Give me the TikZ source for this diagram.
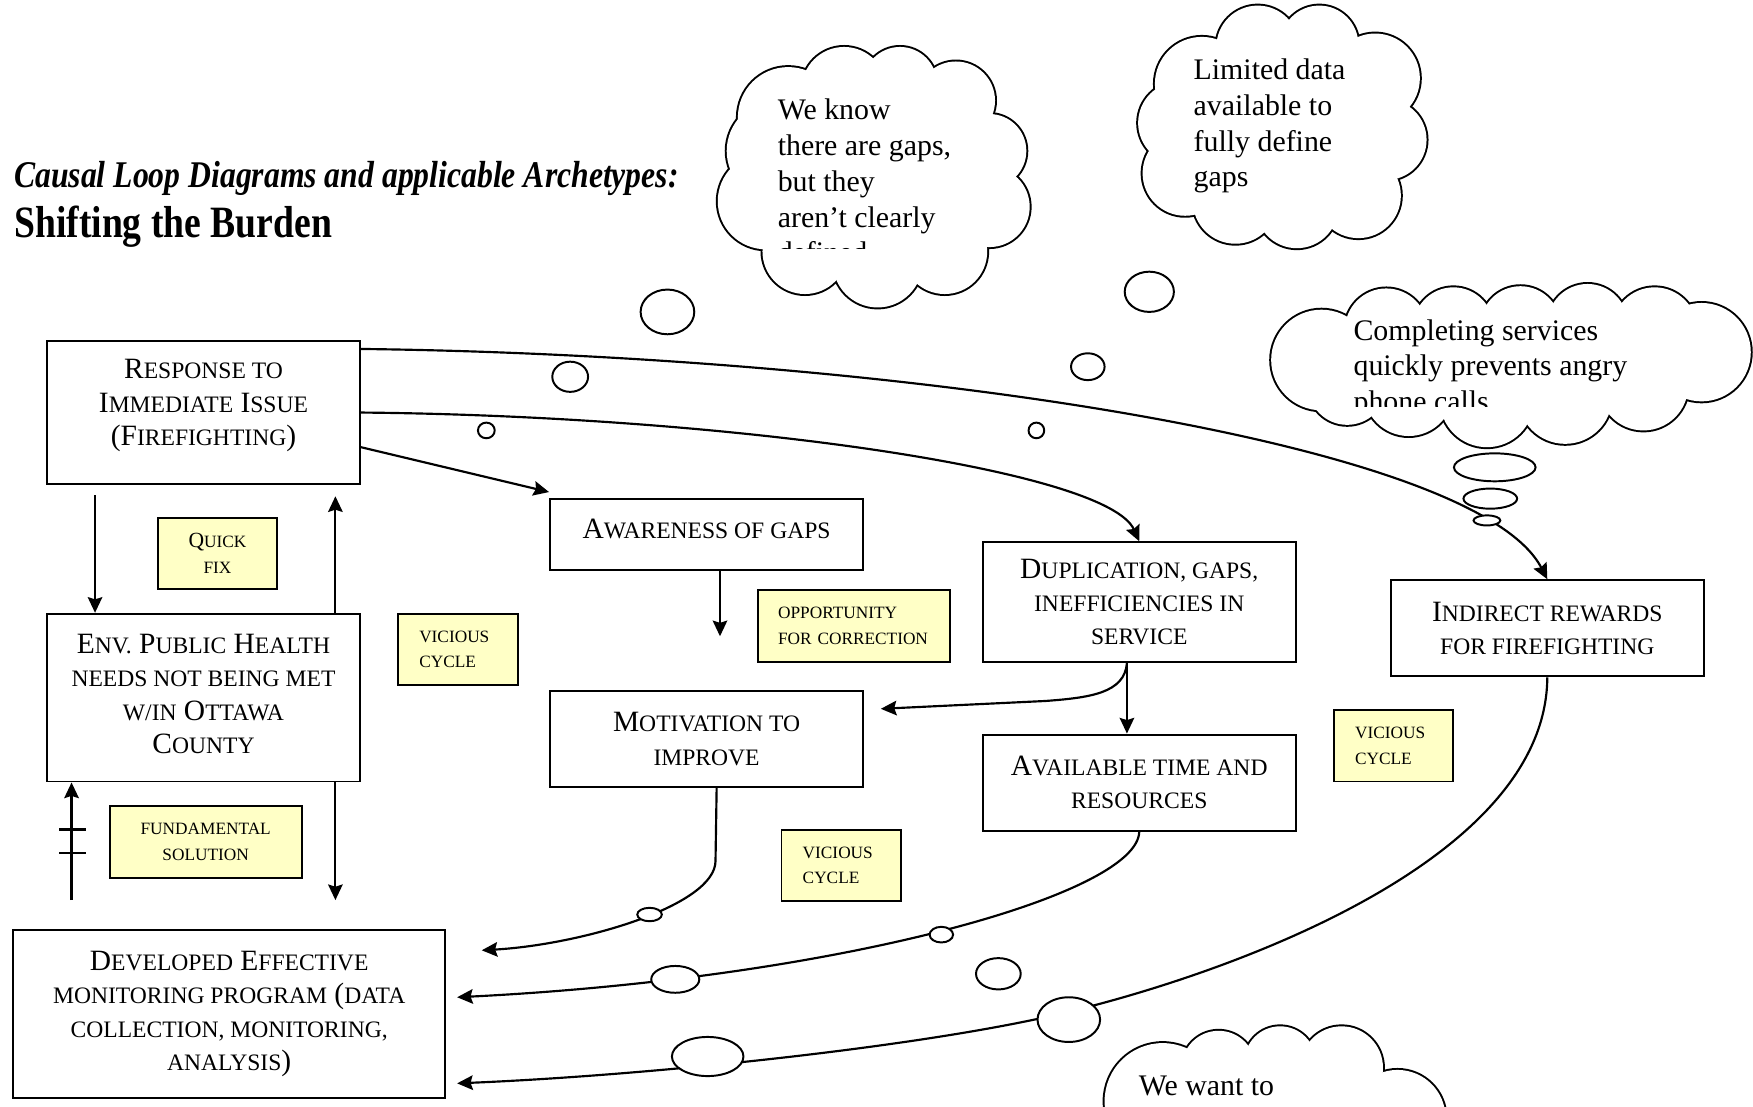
\documentclass[tikz,border=0pt]{standalone}
\usepackage{fontspec}
\setmainfont{Liberation Serif}
\newfontfamily\headfont[FakeStretch=0.84]{Liberation Serif}
\usetikzlibrary{arrows.meta, calc}
\definecolor{notefill}{HTML}{FFFFC6}
\newcommand{\smc}[1]{{\fontsize{6}{8.5}\selectfont #1}}
\newcommand{\capq}[1]{{\fontsize{5.5}{6.5}\selectfont #1}}
\newcommand{\textdrop}[1]{\rule[-#1]{0pt}{#1}}
\newcommand{\thoughtcloud}[2]{%
  \foreach \cx/\cy/\r in {#1} \draw[puff] (\cx,\cy) circle (\r);
  \foreach \cx/\cy/\r in {#1} \fill[white] (\cx,\cy) circle (\r);
  \fill[white] #2;}
\tikzstyle{factor} = [rectangle, draw=black, line width=0.5pt, align=center, inner sep=0pt, minimum width=2.8cm, font=\fontsize{7.5}{8.5}\selectfont]
\tikzstyle{archetype} = [rectangle, draw=black, line width=0.5pt, fill=notefill, minimum height=0.64cm, font=\fontsize{4.4}{6.5}\selectfont]
\tikzstyle{arrow} = [line width=0.55pt, ->, >={Stealth[length=0.14cm, width=0.13cm, inset=0.02cm]}]
\tikzstyle{link} = [line width=0.55pt]
\tikzstyle{bubble} = [draw=black, line width=0.5pt, fill=white]
\tikzstyle{puff} = [draw=black, line width=1pt]
\tikzstyle{thought} = [align=left, anchor=north west, inner sep=0pt, font=\fontsize{7.6}{9.1}\selectfont]

\begin{document}
\begin{tikzpicture}[y=-1cm]
\path[use as bounding box, fill=white] (0,0) rectangle (15.68,9.90);

% headings
\node (heading) [anchor=west, inner sep=0pt, font=\headfont\fontsize{9.6}{11}\selectfont\bfseries\itshape] at (0.12,1.60) {Causal Loop Diagrams and applicable Archetypes:};
\node (subheading) [anchor=west, inner sep=0pt, font=\headfont\fontsize{11.4}{13}\selectfont\bfseries] at (0.12,2.03) {Shifting the Burden};

% thought clouds
\thoughtcloud{7.05/1.05/0.45, 7.55/0.80/0.38, 8.05/0.75/0.33, 8.55/0.90/0.35, 8.85/1.35/0.33, 8.85/1.85/0.36, 8.45/2.25/0.38, 7.85/2.35/0.40, 7.20/2.25/0.38, 6.85/1.80/0.43, 6.95/1.35/0.45}{(7.8,1.6) ellipse (1.0 and 0.78)}
\thoughtcloud{10.75/0.75/0.42, 11.25/0.42/0.37, 11.80/0.40/0.35, 12.30/0.70/0.40, 12.40/1.25/0.36, 12.15/1.75/0.38, 11.60/1.85/0.37, 11.05/1.80/0.38, 10.60/1.55/0.38, 10.55/1.10/0.37}{(11.47,1.13) ellipse (0.95 and 0.75)}
\thoughtcloud{11.82/3.22/0.45, 12.40/2.95/0.37, 13.00/2.93/0.36, 13.60/2.92/0.36, 14.20/2.90/0.36, 14.80/2.95/0.38, 15.22/3.15/0.44, 14.70/3.45/0.40, 14.00/3.55/0.42, 13.30/3.58/0.42, 12.60/3.50/0.40, 12.05/3.45/0.35}{(13.5,3.25) ellipse (1.5 and 0.42)}
\thoughtcloud{10.40/9.85/0.52, 10.90/9.55/0.33, 11.45/9.50/0.32, 12.00/9.55/0.37, 12.50/10.00/0.43, 11.50/10.40/0.60}{(11.4,10.1) ellipse (1.1 and 0.6)}

\begin{scope}
\clip (6.90,0.70) rectangle (8.90,2.22);
\node (think1) [thought] at (6.95,0.88) {We know\\there are gaps,\\but they\\aren’t clearly\\defined};
\end{scope}
\node (think2) [thought] at (10.67,0.52) {Limited data\\available to\\fully define\\gaps};
\begin{scope}
\clip (12.00,2.60) rectangle (15.00,3.64);
\node (think3) [thought] at (12.10,2.85) {Completing services\\quickly prevents angry\\phone calls};
\end{scope}
\node (think4) [thought] at (10.18,9.62) {We want to};

% variables
\node (resp) [factor, minimum height=1.28cm] at (1.82,3.69) {R\smc{ESPONSE TO}\\I\smc{MMEDIATE} I\smc{SSUE}\\(F\smc{IREFIGHTING})\textdrop{0.18cm}};
\node (env) [factor, minimum height=1.50cm] at (1.82,6.24) {E\smc{NV.} P\smc{UBLIC} H\smc{EALTH}\\\smc{NEEDS NOT BEING MET}\\\smc{W/IN} O\smc{TTAWA}\\C\smc{OUNTY}\textdrop{0.07cm}};
\node (dev) [factor, minimum width=3.86cm, minimum height=1.50cm] at (2.05,9.07) {D\smc{EVELOPED} E\smc{FFECTIVE}\\\smc{MONITORING PROGRAM} (\smc{DATA}\\\smc{COLLECTION, MONITORING,}\\\smc{ANALYSIS})};
\node (aware) [factor, minimum height=0.64cm] at (6.32,4.78) {A\smc{WARENESS OF GAPS}\textdrop{0.10cm}};
\node (motiv) [factor, minimum height=0.86cm] at (6.32,6.61) {M\smc{OTIVATION TO}\\\smc{IMPROVE}};
\node (dup) [factor, minimum height=1.07cm] at (10.19,5.385) {D\smc{UPLICATION, GAPS,}\\\smc{INEFFICIENCIES IN}\\\smc{SERVICE}};
\node (avail) [factor, minimum height=0.86cm] at (10.19,7.00) {A\smc{VAILABLE TIME AND}\\\smc{RESOURCES}};
\node (indir) [factor, minimum height=0.86cm] at (13.84,5.62) {I\smc{NDIRECT REWARDS}\\\smc{FOR FIREFIGHTING}};

% archetype labels
\node (quick) [archetype, minimum width=1.07cm, align=center] at (1.945,4.95) {\capq{Q}UICK\\FIX};
\node (vicious1) [archetype, text width=0.69cm, inner xsep=0.19cm, align=left] at (4.095,5.81) {VICIOUS\\CYCLE};
\node (fund) [archetype, minimum width=1.72cm, align=center] at (1.84,7.53) {FUNDAMENTAL\\SOLUTION};
\node (oppo) [archetype, text width=1.36cm, inner xsep=0.18cm, align=left] at (7.64,5.60) {OPPORTUNITY\\FOR CORRECTION};
\node (vicious2) [archetype, text width=0.69cm, inner xsep=0.19cm, align=left] at (7.525,7.74) {VICIOUS\\CYCLE};
\node (vicious3) [archetype, text width=0.69cm, inner xsep=0.19cm, align=left] at (12.465,6.67) {VICIOUS\\CYCLE};

% links
\draw [arrow, shorten <=0.09cm] (0.85,0 |- resp.south) -- (0.85,0 |- env.north);
\draw [arrow, shorten >=0.10cm] (3.00,0 |- env.north) -- (3.00,0 |- resp.south);
\draw [arrow, shorten >=0.26cm] (3.00,0 |- env.south) -- (3.00,0 |- dev.north);
\draw [arrow, shorten <=0.26cm] (0.64,0 |- dev.north) -- (0.64,0 |- env.south);
\draw [link] (0.53,7.42) -- (0.77,7.42) (0.53,7.63) -- (0.77,7.63);
\draw [arrow] ($(resp.east)+(0,0.31)$) -- ($(aware.north west)+(0,-0.05)$);
\draw [arrow] ($(resp.north east)+(0,0.08)$) .. controls (8.00,3.18) and (13.20,3.95) .. (indir.north);
\draw [arrow] (resp.east) .. controls (6.50,3.72) and (9.90,4.20) .. (dup.north);
\draw [arrow, shorten >=0.48cm] (6.44,0 |- aware.south) -- (6.44,0 |- motiv.north);
\draw [arrow] (10.08,0 |- dup.south) .. controls (10.06,6.20) and (9.75,6.24) .. (9.35,6.27) -- ($(motiv.east)+(0.15,-0.27)$);
\draw [arrow] (10.08,0 |- dup.south) -- (10.08,0 |- avail.north);
\draw [arrow] (6.41,0 |- motiv.south) -- (6.40,7.70) .. controls (6.40,8.10) and (5.20,8.45) .. ($(dev.east)+(0.32,-0.57)$);
\draw [arrow] (avail.south) .. controls (10.18,8.00) and (7.50,8.75) .. ($(dev.east)+(0.10,-0.15)$);
\draw [arrow] (indir.south) .. controls (13.83,7.70) and (11.00,8.70) .. (9.56,9.05) .. controls (8.30,9.36) and (5.80,9.62) .. ($(dev.east)+(0.10,0.62)$);

% thought bubbles
\foreach \cx/\cy/\rx/\ry in {5.97/2.79/0.24/0.20, 5.10/3.37/0.16/0.135, 4.35/3.85/0.075/0.07, 10.28/2.61/0.22/0.18, 9.73/3.28/0.15/0.12, 9.27/3.85/0.07/0.07, 13.37/4.18/0.365/0.125, 13.33/4.46/0.24/0.09, 13.30/4.655/0.12/0.045, 9.56/9.12/0.28/0.20, 8.93/8.71/0.20/0.14, 8.42/8.36/0.105/0.07, 6.33/9.45/0.32/0.175, 6.04/8.76/0.215/0.12, 5.81/8.18/0.11/0.06}
  \draw [bubble] (\cx,\cy) ellipse [x radius=\rx, y radius=\ry];
\end{tikzpicture}
\end{document}
